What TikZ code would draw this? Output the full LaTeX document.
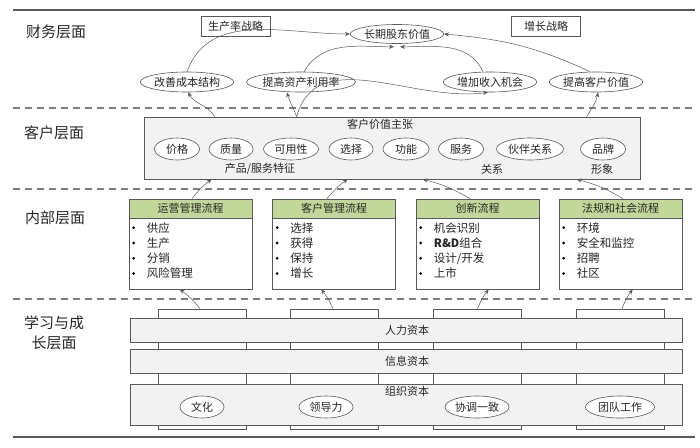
\documentclass[tikz,border=0pt]{standalone}
\usepackage{fontspec}
\setmainfont{Noto Sans CJK SC}
\usetikzlibrary{arrows.meta,shapes.geometric,calc}
\definecolor{hdrgreen}{HTML}{C4D79B}
\definecolor{linegray}{HTML}{595959}
\definecolor{dashgray}{HTML}{808080}
\definecolor{panelgray}{HTML}{F2F2F2}
\newcommand\mkproc[4]{%
  \node[pbox] (#1) at (#2,244) {};
  \node[hdr, anchor=north] (#1h) at (#1.north) {#3};
  \foreach \t [count=\i] in {#4} {
    \node[bdot] (#1d\i) at ($(#1.north west)+(5,{29+15.3*(\i-1)})$) {};
    \node[item, anchor=west] (#1t\i) at ($(#1.north west)+(18,{29+15.3*(\i-1)})$) {\t};
  }%
}
\begin{document}
\begin{tikzpicture}[x=1pt,y=-1pt,
  lbl/.style={font=\fontsize{15}{20}\selectfont, inner sep=0pt, text=black!85, align=center},
  txt/.style={font=\fontsize{11}{13}\selectfont, inner sep=0pt, text=black!85},
  item/.style={font=\fontsize{11.5}{13}\selectfont, inner sep=0pt, text=black!85},
  ell/.style={ellipse, draw=linegray, fill=white, line width=0.6pt, inner sep=0pt,
    font=\fontsize{11}{13}\selectfont, text=black!85, minimum height=20pt},
  tagbox/.style={draw=linegray, fill=white, line width=0.6pt, minimum width=69pt,
    minimum height=20pt, inner sep=0pt, font=\fontsize{11}{13}\selectfont, text=black!85},
  arr/.style={-{Stealth[length=5pt,width=4pt]}, draw=linegray, line width=0.5pt},
  pbox/.style={draw=linegray, fill=white, line width=0.7pt, minimum width=123pt,
    minimum height=90pt, inner sep=0pt},
  hdr/.style={draw=linegray, fill=hdrgreen, line width=0.7pt, minimum width=123pt,
    minimum height=19pt, inner sep=0pt, font=\fontsize{11}{13}\selectfont, text=black!85},
  bdot/.style={circle, fill=black, inner sep=0pt, minimum size=3pt},
  panel/.style={draw=linegray, fill=panelgray, line width=0.6pt, inner sep=0pt},
  colbox/.style={draw=linegray, fill=white, line width=0.6pt, inner sep=0pt,
    minimum width=88pt, minimum height=120pt},
  solidline/.style={draw=black!65, line width=1.2pt},
  dashline/.style={draw=dashgray, line width=1.5pt, dash pattern=on 7pt off 5pt}
]
\useasboundingbox (0,0) rectangle (700,447);

% layer separators
\coordinate (tl) at (13,10); \coordinate (tr) at (695,10);
\coordinate (d1l) at (13,108); \coordinate (d1r) at (695,108);
\coordinate (d2l) at (13,189); \coordinate (d2r) at (695,189);
\coordinate (d3l) at (13,299); \coordinate (d3r) at (695,299);
\coordinate (bl) at (13,437); \coordinate (br) at (695,437);
\draw[solidline] (tl) -- (tr);
\draw[dashline] (d1l) -- (d1r);
\draw[dashline] (d2l) -- (d2r);
\draw[dashline] (d3l) -- (d3r);
\draw[solidline] (bl) -- (br);

% layer labels
\node[lbl] (L1) at (56,32) {财务层面};
\node[lbl] (L2) at (54,133) {客户层面};
\node[lbl] (L3) at (55,218) {内部层面};
\node[lbl] (L4) at (54,333) {学习与成\\长层面};

% finance layer
\node[tagbox] (sp) at (235.5,26) {生产率战略};
\node[tagbox] (gs) at (546,26) {增长战略};
\node[ell, minimum width=90pt, minimum height=19pt] (lt) at (397,34) {长期股东价值};
\node[ell, minimum width=90pt] (c1) at (187,82) {改善成本结构};
\node[ell, minimum width=100pt] (c2) at (301,82) {提高资产利用率};
\node[ell, minimum width=89pt] (c3) at (490,82) {增加收入机会};
\node[ell, minimum width=88pt] (c4) at (596,82) {提高客户价值};

\draw[arr] (c1.north) to[out=70,in=180] (lt.west);
\draw[arr] ([xshift=3pt]c2.north) to[out=60,in=180] ([shift={(-3,3)}]lt.south);
\draw[arr] ([xshift=-7pt]c3.north) to[out=115,in=0] ([shift={(3,3)}]lt.south);
\draw[arr] ([xshift=-6pt]c4.north) to[out=155,in=-5] (lt.east);

% customer layer
\node[panel, minimum width=496pt, minimum height=62pt] (cust) at (392,148) {};
\node[txt] (cvp) at (380,124) {客户价值主张};
\node[ell, minimum width=45pt, minimum height=22pt] (v1) at (177,149) {价格};
\node[ell, minimum width=44pt, minimum height=22pt] (v2) at (231,149) {质量};
\node[ell, minimum width=55pt, minimum height=22pt] (v3) at (291,149) {可用性};
\node[ell, minimum width=44pt, minimum height=22pt] (v4) at (351,149) {选择};
\node[ell, minimum width=46pt, minimum height=22pt] (v5) at (406,149) {功能};
\node[ell, minimum width=45pt, minimum height=22pt] (v6) at (461,149) {服务};
\node[ell, minimum width=67pt, minimum height=22pt] (v7) at (530,149) {伙伴关系};
\node[ell, minimum width=45pt, minimum height=22pt] (v8) at (603,149) {品牌};
\node[txt] (g1) at (260,169) {产品/服务特征};
\node[txt] (g2) at (492,169) {关系};
\node[txt] (g3) at (602,169) {形象};

\coordinate (q1) at ($(cust.north west)+(71,0)$);
\coordinate (q2) at ($(cust.north west)+(153,0)$);
\coordinate (q4) at ($(cust.north west)+(443,0)$);
\draw[arr] (q1) to[out=120,in=-60] ([xshift=1pt]c1.south);
\draw[arr] (q2) to[out=110,in=-75] ([xshift=-14pt]c2.south);
\draw[arr] (q2) to[out=75,in=188] ([xshift=-2pt]c3.south);
\draw[arr] (q4) to[out=60,in=-100] ([xshift=2pt]c4.south);

% internal layer
\mkproc{op}{190.5}{运营管理流程}{供应,生产,分销,风险管理}
\mkproc{cm}{334}{客户管理流程}{选择,获得,保持,增长}
\mkproc{in}{477.5}{创新流程}{机会识别,{{\bfseries R\&D}组合},设计/开发,上市}
\mkproc{lg}{620.5}{法规和社会流程}{环境,安全和监控,招聘,社区}

\draw[arr] ([xshift=1.5pt]op.north) to[bend left=8] ($(cust.south west)+(68,0)$);
\draw[arr] ([xshift=-7pt]cm.north) to[bend left=8] ($(cust.south west)+(204,0)$);
\draw[arr] ([xshift=-7.5pt]in.north) to[bend right=8] ($(cust.south west)+(279,0)$);
\draw[arr] ([xshift=2.5pt]lg.north) to[bend right=8] ($(cust.south west)+(433,0)$);

% learning and growth layer
\node[colbox] (k1) at (202,369) {};
\node[colbox] (k2) at (334,369) {};
\node[colbox] (k3) at (477.5,369) {};
\node[colbox] (k4) at (620.5,369) {};
\node[panel, minimum width=552pt, minimum height=24pt] (hr) at (406,330) {};
\node[panel, minimum width=552pt, minimum height=24pt] (ic) at (406,361) {};
\node[panel, minimum width=552pt, minimum height=41pt] (oc) at (406,404.5) {};
\node[txt] (hrl) at (407,330) {人力资本};
\node[txt] (icl) at (407,361) {信息资本};
\node[txt] (ocl) at (407,391) {组织资本};
\node[ell, minimum width=44pt, minimum height=22pt] (o1) at (202,407) {文化};
\node[ell, minimum width=54pt, minimum height=22pt] (o2) at (326,407) {领导力};
\node[ell, minimum width=64pt, minimum height=22pt] (o3) at (477,407) {协调一致};
\node[ell, minimum width=69pt, minimum height=22pt] (o4) at (620,407) {团队工作};

\draw[arr] ([xshift=-2pt]k1.north) to[bend right=8] ($(op.south west)+(51,0)$);
\draw[arr] ([xshift=-1pt]k2.north) to[bend right=8] ($(cm.south west)+(49,0)$);
\draw[arr] (k3.north) to[bend left=8] ($(in.south west)+(73,0)$);
\draw[arr] ([xshift=1.5pt]k4.north) to[bend left=8] ($(lg.south west)+(74,0)$);
\end{tikzpicture}
\end{document}
